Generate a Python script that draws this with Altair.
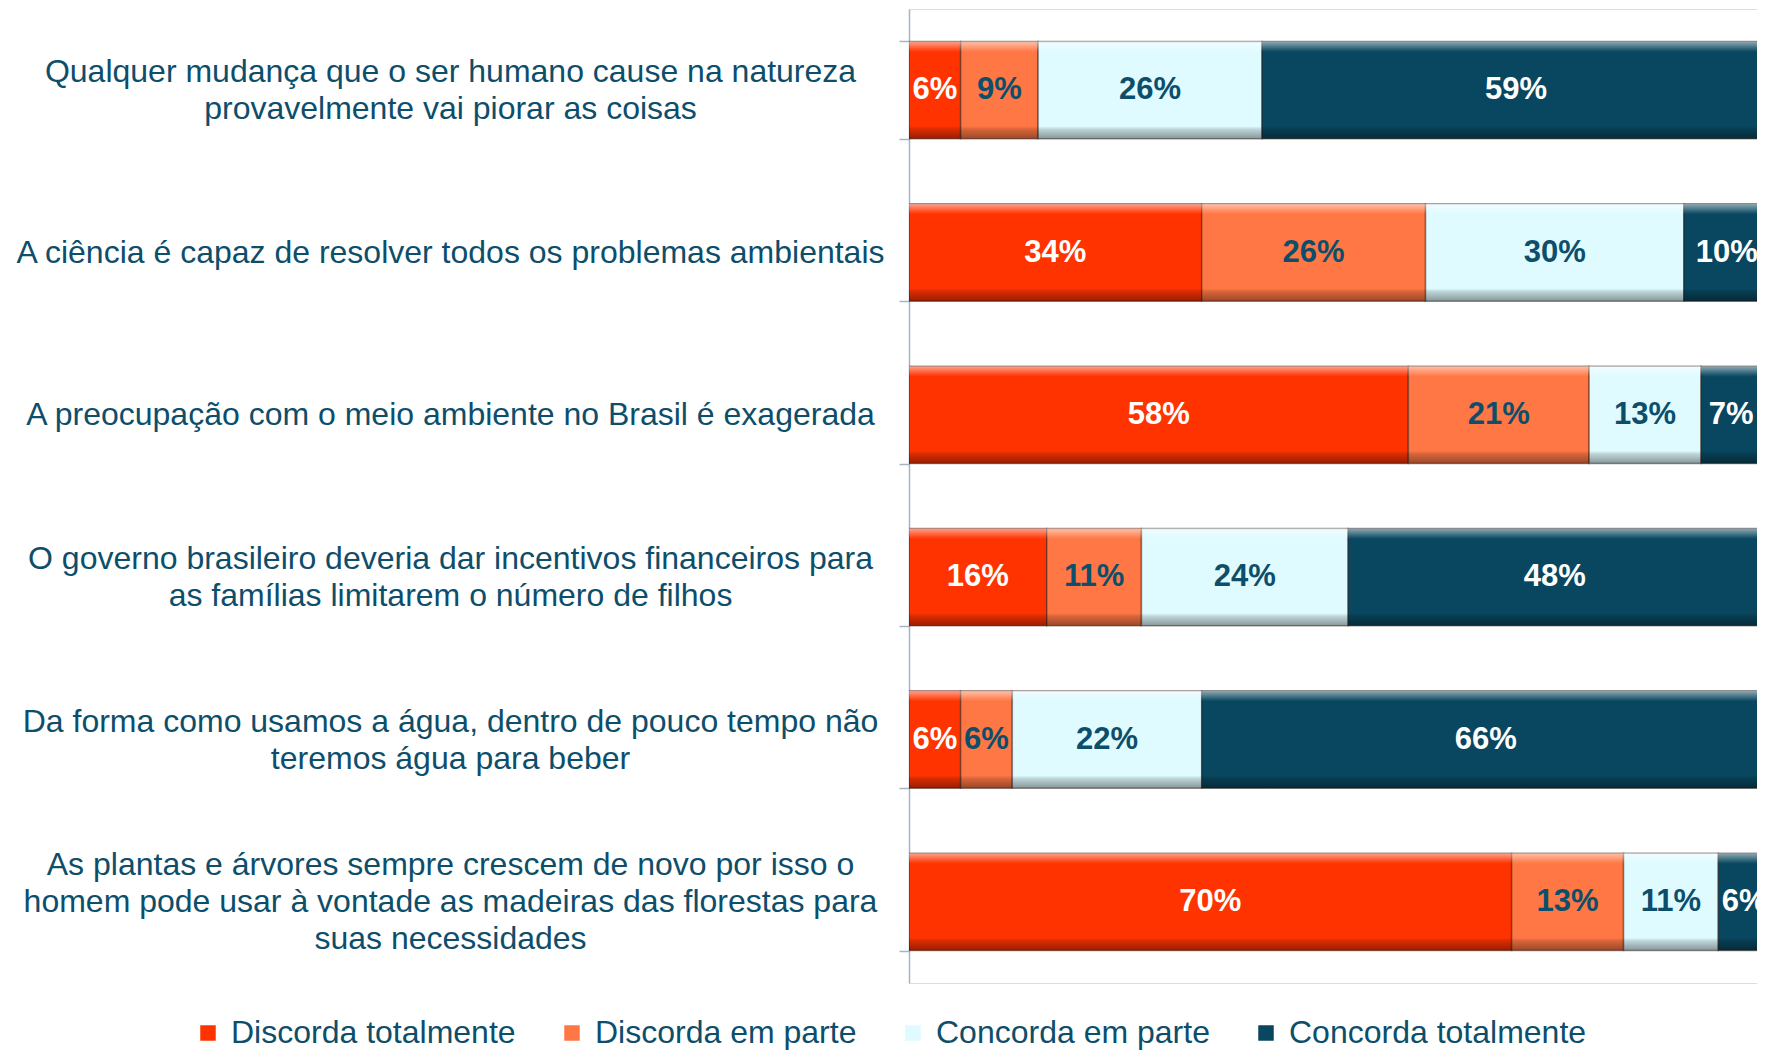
import altair as alt
import pandas as pd

questions = [
    "Qualquer mudança que o ser humano cause na natureza|provavelmente vai piorar as coisas",
    "A ciência é capaz de resolver todos os problemas ambientais",
    "A preocupação com o meio ambiente no Brasil é exagerada",
    "O governo brasileiro deveria dar incentivos financeiros para|as famílias limitarem o número de filhos",
    "Da forma como usamos a água, dentro de pouco tempo não|teremos água para beber",
    "As plantas e árvores sempre crescem de novo por isso o|homem pode usar à vontade as madeiras das florestas para|suas necessidades",
]
categories = ["Discorda totalmente", "Discorda em parte", "Concorda em parte", "Concorda totalmente"]
discorda_totalmente = [6, 34, 58, 16, 6, 70]
discorda_em_parte = [9, 26, 21, 11, 6, 13]
concorda_em_parte = [26, 30, 13, 24, 22, 11]
concorda_totalmente = [59, 10, 7, 48, 66, 6]

bar_colors = ["#FF3300", "#FF7744", "#DFFBFF", "#08475F"]
label_colors = ["#FFFFFF", "#0D4E6B", "#0D4E6B", "#FFFFFF"]
TEXT = "#0D4E6B"
FONT = "Liberation Sans"

series = [discorda_totalmente, discorda_em_parte, concorda_em_parte, concorda_totalmente]
rows = []
for qi, q in enumerate(questions):
    for ci, cat in enumerate(categories):
        rows.append({"question": q, "category": cat, "order": ci, "value": series[ci][qi]})
df = pd.DataFrame(rows)

base = alt.Chart(df).transform_stack(
    stack="value", groupby=["question"], as_=["x0", "x1"],
    sort=[alt.SortField("order", order="ascending")]
)

xscale = alt.Scale(domain=[0, 98.5], nice=False, zero=True)
yaxis = alt.Axis(
    title=None, tickBand="extent", tickSize=10, tickColor="#A6B4C2", tickWidth=1.5,
    domainColor="#A6B4C2", domainWidth=1.5, grid=False,
    labelAlign="center", labelBaseline="middle", labelPadding=449,
    labelOffset=alt.ExprRef("-(length(split(datum.label, '|')) - 1) * 18.5"),
    labelFont=FONT, labelFontSize=32, labelLineHeight=37, labelColor=TEXT,
    labelLimit=900, labelExpr="split(datum.label, '|')",
)
yenc = alt.Y("question:N", sort=questions,
             scale=alt.Scale(paddingInner=0.4, paddingOuter=0.2), axis=yaxis)

bars = base.mark_bar(clip=True, stroke="#2a1208", strokeOpacity=0.45, strokeWidth=1.5).encode(
    x=alt.X("x0:Q", scale=xscale, axis=None),
    x2="x1:Q",
    y=yenc,
    color=alt.Color(
        "category:N", sort=categories,
        scale=alt.Scale(domain=categories, range=bar_colors),
        legend=alt.Legend(
            orient="none", legendX=-717, legendY=1008, direction="horizontal",
            columns=4, title=None, labelFont=FONT, labelFontSize=32, labelColor=TEXT,
            symbolType="square", symbolSize=240, symbolStrokeWidth=0, symbolOpacity=1,
            columnPadding=40, labelOffset=7, labelLimit=600,
        ),
    ),
)

shade = base.mark_bar(
    clip=True,
    fill=alt.Gradient(
        gradient="linear", x1=0, y1=0, x2=0, y2=1,
        stops=[
            alt.GradientStop(offset=0, color="rgba(255,255,255,0.55)"),
            alt.GradientStop(offset=0.09, color="rgba(255,255,255,0.08)"),
            alt.GradientStop(offset=0.11, color="rgba(255,255,255,0)"),
            alt.GradientStop(offset=0.87, color="rgba(0,0,0,0)"),
            alt.GradientStop(offset=0.9, color="rgba(0,0,0,0.15)"),
            alt.GradientStop(offset=1, color="rgba(0,0,0,0.4)"),
        ],
    ),
).encode(x=alt.X("x0:Q", scale=xscale, axis=None), x2="x1:Q", y=yenc)

text = base.transform_calculate(
    mid="(datum.x0 + datum.x1) / 2", lbl="datum.value + '%'"
).mark_text(font=FONT, fontSize=31, fontWeight="bold", baseline="middle", align="center").encode(
    x=alt.X("mid:Q", scale=xscale, axis=None),
    y=yenc,
    text="lbl:N",
    color=alt.Color("category:N", scale=alt.Scale(domain=categories, range=label_colors), legend=None),
)

chart = alt.layer(bars, shade, text).resolve_scale(color="independent").properties(
    width=848, height=974,
    autosize=alt.AutoSizeParams(type="none"),
    padding={"left": 901, "top": 1, "right": 0, "bottom": 70},
).configure_view(stroke=None).configure(background="white")

chart.save("out.html", embed_options={"renderer": "svg", "actions": False})
